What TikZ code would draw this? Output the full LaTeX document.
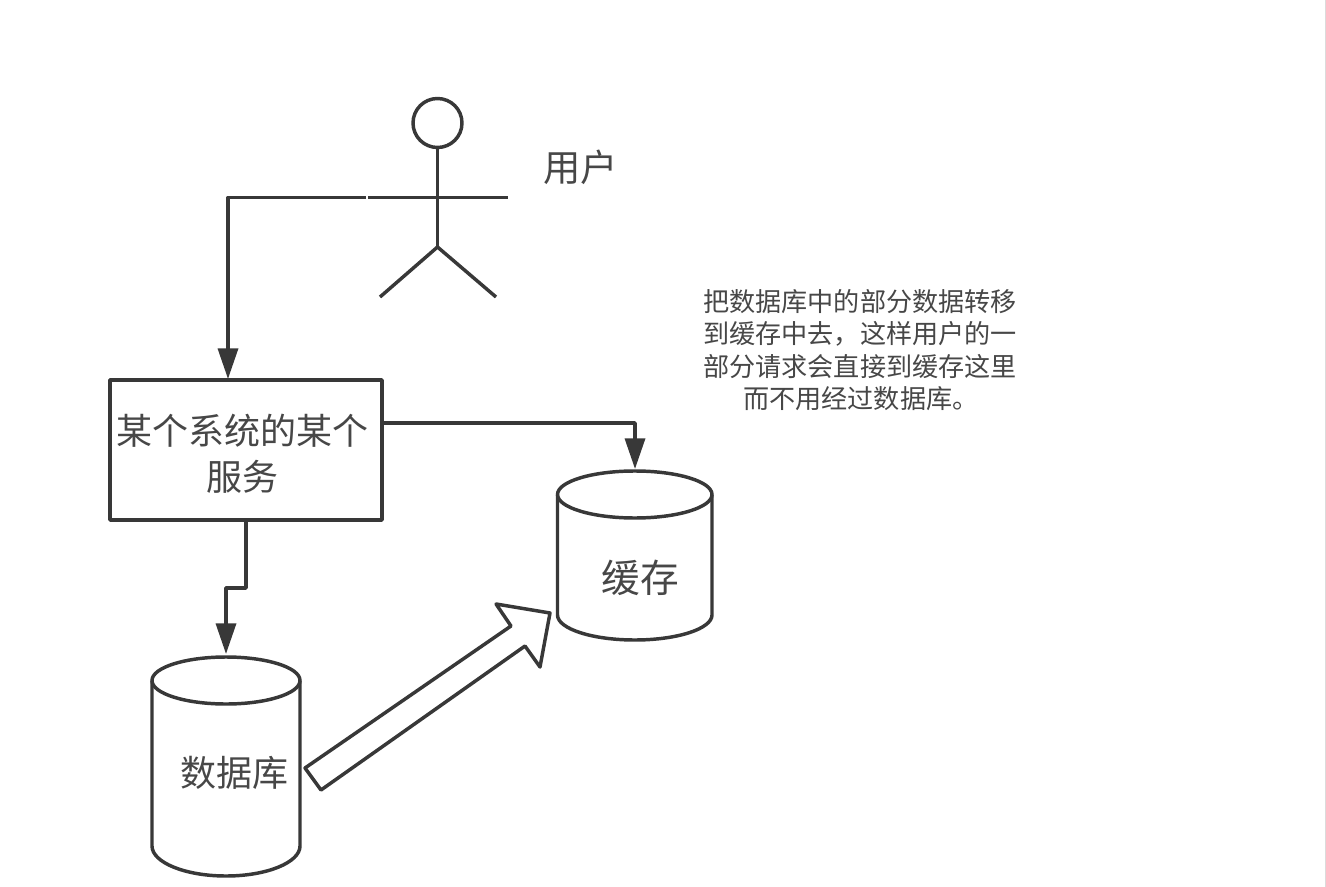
\documentclass[tikz,border=0pt]{standalone}
\usepackage{fontspec}
\setmainfont{Noto Sans CJK SC}
\usetikzlibrary{arrows.meta}

% drum: left, right, top, bottom, bottom curve depth
\newcommand{\drum}[5]{%
  \pgfmathsetmacro{\drumcx}{(#1+#2)/2}
  \pgfmathsetmacro{\drumrx}{(#2-#1)/2}
  \pgfmathsetmacro{\drumcy}{#3+23.5}
  \pgfmathsetmacro{\drumend}{#4-#5}
  \pgfmathsetmacro{\drumca}{#4-0.45*#5}
  \pgfmathsetmacro{\drumcb}{\drumrx*0.55}
  \draw (\drumcx,\drumcy) ellipse [x radius=\drumrx, y radius=23.5];
  \draw (#1,\drumcy) -- (#1,\drumend)
    .. controls (#1,\drumca) and (\drumcx-\drumcb,#4) .. (\drumcx,#4)
    .. controls (\drumcx+\drumcb,#4) and (#2,\drumca) .. (#2,\drumend) -- (#2,\drumcy);
}

\begin{document}
\begin{tikzpicture}[x=0.75pt, y=-0.75pt, >={Triangle[length=23pt,width=15pt]},
    line join=round, line width=2.6pt, draw=black!78, color=black!78,
    bigfont/.style={font=\fontsize{27}{34.5}\selectfont, text=black!72},
    notefont/.style={font=\fontsize{19.6}{24.4}\selectfont, text=black!72}]
  \useasboundingbox (0,0) rectangle (1326,887);
  \fill[black!14] (1325,0) rectangle (1326,887);

  % person
  \node[draw, circle, minimum size=36.75pt, inner sep=0pt] (head) at (437.5,123) {};
  \coordinate (hip) at (437.5,247);
  \coordinate (armL) at (368,197.5);
  \coordinate (armR) at (508,197.5);
  \coordinate (handL) at (366,197.5);
  \coordinate (footL) at (380,297);
  \coordinate (footR) at (496,297);
  \draw (head) -- (hip);
  \draw (armL) -- (armR);
  \draw (footL) -- (hip) -- (footR);
  \node[bigfont, font=\fontsize{28}{34}\selectfont] (user) at (580.5,167) {用户};

  % boxes
  \node[draw, minimum width=204pt, minimum height=105pt, inner sep=0pt, align=center, bigfont]
    (service) at (246,450) {\rule{0pt}{29pt}某个系统的某个\hspace*{6pt}\\服务\hspace*{6pt}};
  \drum{557.5}{712}{471}{640}{25}
  \drum{152}{300}{657}{876}{30}
  \node[bigfont, font=\fontsize{29}{34}\selectfont] (cachetext) at (640,578) {缓存};
  \node[bigfont] (dbtext) at (234,773) {数据库};
  \node[notefont, align=left] (note) at (860,350)
    {把数据库中的部分数据转移\\到缓存中去，这样用户的一\\部分请求会直接到缓存这里\\\hspace*{30pt}而不用经过数据库。};

  % connectors
  \coordinate (serviceIn) at (228,379);
  \coordinate (serviceOutR) at (382,423);
  \coordinate (serviceOutB) at (246,520);
  \coordinate (bend) at (246,588);
  \coordinate (dbIn) at (226,654);
  \coordinate (cacheIn) at (635,469);
  \draw[->] (handL) -| (serviceIn);
  \draw[->] (serviceOutR) -| (cacheIn);
  \draw[->] (serviceOutB) -- (bend) -| (dbIn);

  % big arrow
  \coordinate (tailA) at (305,768);
  \coordinate (tailB) at (321,790);
  \coordinate (neckA) at (511,626);
  \coordinate (barbA) at (496,604);
  \coordinate (tip) at (550,613);
  \coordinate (barbB) at (540,667);
  \coordinate (neckB) at (525,646);
  \draw (tailA) -- (neckA) -- (barbA) -- (tip) -- (barbB) -- (neckB) -- (tailB) -- cycle;
\end{tikzpicture}
\end{document}
